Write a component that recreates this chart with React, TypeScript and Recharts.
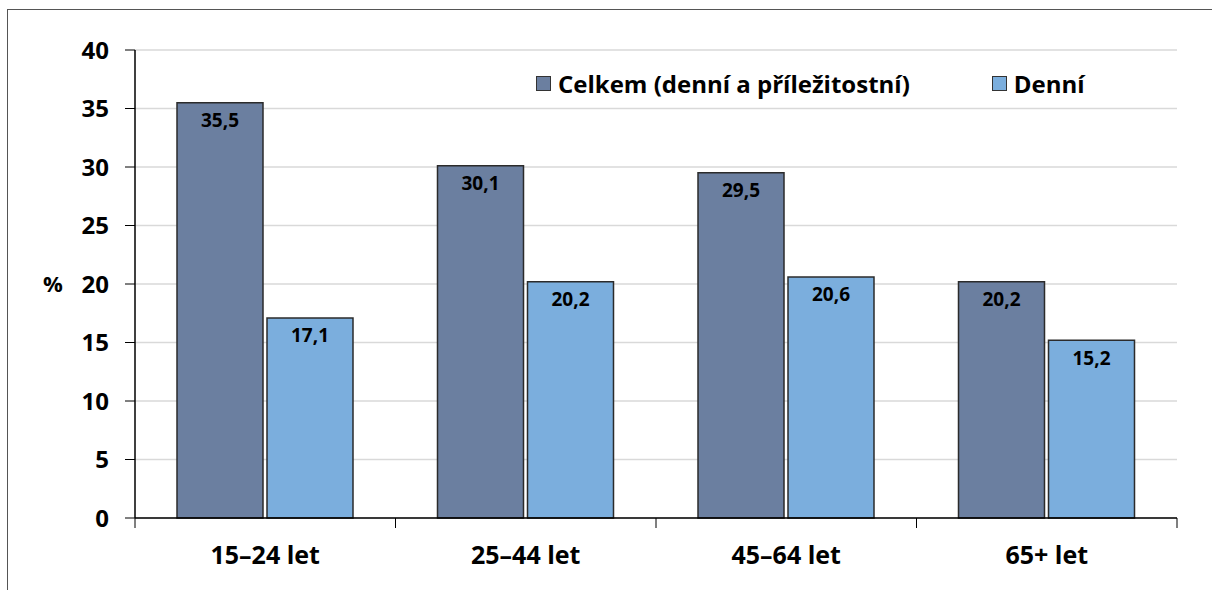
import React from 'react';
import { BarChart, Bar, XAxis, YAxis, CartesianGrid, Legend, LabelList } from 'recharts';

const categories = ['15–24 let', '25–44 let', '45–64 let', '65+ let'];
const celkem = [35.5, 30.1, 29.5, 20.2];
const denni = [17.1, 20.2, 20.6, 15.2];
const yTicks = [0, 5, 10, 15, 20, 25, 30, 35, 40];
const seriesNames = ['Celkem (denní a příležitostní)', 'Denní'];

const data = categories.map((c, i) => ({ cat: c, celkem: celkem[i], denni: denni[i] }));

const FONT = '"Open Sans", Lato, sans-serif';
const DARK = '#6B7FA0';
const LIGHT = '#7BAEDD';

const fmt = (v: any) => String(v).replace('.', ',');

const XTick = (props: any) => {
  const { x, y, payload, index } = props;
  const off = payload.offset || 0;
  return (
    <g>
      <line x1={x - off} x2={x - off} y1={y} y2={y + 10} stroke="#000" strokeWidth={1} />
      {index === categories.length - 1 && (
        <line x1={x + off} x2={x + off} y1={y} y2={y + 10} stroke="#000" strokeWidth={1} />
      )}
      <text x={x} y={y + 46} textAnchor="middle" fill="#000" fontSize={25} fontWeight={700} fontFamily={FONT}>
        {payload.value}
      </text>
    </g>
  );
};

const LegendContent = () => (
  <div style={{ display: 'flex', alignItems: 'center', fontFamily: FONT, fontWeight: 700, fontSize: 24, color: '#000', whiteSpace: 'nowrap' }}>
    <span style={{ display: 'inline-block', width: 13, height: 13, background: DARK, border: '1.5px solid #333', marginRight: 7 }} />
    <span>{seriesNames[0]}</span>
    <span style={{ display: 'inline-block', width: 13, height: 13, background: LIGHT, border: '1.5px solid #333', marginLeft: 82, marginRight: 7 }} />
    <span>{seriesNames[1]}</span>
  </div>
);

export default function App() {
  return (
    <div style={{ position: 'absolute', left: 0, top: 0, width: 1212, height: 590, background: '#fff' }}>
      <div style={{ position: 'absolute', left: 7, top: 9, width: 1205, height: 581, borderLeft: '1.5px solid #555', borderTop: '1.5px solid #555' }} />
      <BarChart
        width={1212}
        height={590}
        data={data}
        margin={{ top: 50, right: 35, bottom: 0, left: 0 }}
        barCategoryGap={42}
        barGap={4}
      >
        <CartesianGrid xAxisId="cat" yAxisId="l" horizontal vertical={false} stroke="#d9d9d9" strokeWidth={1.5} />
        <XAxis
          xAxisId="cat"
          dataKey="cat"
          height={72}
          axisLine={{ stroke: '#000', strokeWidth: 1.5 }}
          tickLine={false}
          tickSize={0}
          tickMargin={0}
          interval={0}
          tick={<XTick />}
        />
        <XAxis xAxisId="top" dataKey="cat" orientation="top" height={0} tick={false} tickLine={false} axisLine={{ stroke: '#8c8c8c', strokeWidth: 2.5 }} />
        <YAxis
          yAxisId="l"
          width={135}
          domain={[0, 40]}
          ticks={yTicks}
          tickSize={10}
          tickMargin={16}
          axisLine={{ stroke: '#000', strokeWidth: 1.5 }}
          tickLine={{ stroke: '#000' }}
          tick={{ fill: '#000', fontSize: 24, fontWeight: 700, fontFamily: FONT }}
          label={{ value: '%', position: 'insideLeft', offset: 43, fill: '#000', fontSize: 22, fontWeight: 700, fontFamily: FONT }}
        />
        <YAxis yAxisId="r" orientation="right" width={0} domain={[0, 40]} tick={false} tickLine={false} axisLine={{ stroke: '#8c8c8c', strokeWidth: 2.5 }} />
        <Legend
          layout="horizontal"
          verticalAlign="middle"
          align="center"
          content={<LegendContent />}
          wrapperStyle={{ position: 'absolute', left: 536, top: 67, width: 'auto' }}
        />
        <Bar xAxisId="cat" yAxisId="l" dataKey="celkem" name={seriesNames[0]} fill={DARK} stroke="#2b2b2b" strokeWidth={1.5} isAnimationActive={false}>
          <LabelList dataKey="celkem" position="insideTop" offset={11} formatter={fmt} fill="#000" fontSize={19} fontWeight={700} fontFamily={FONT} />
        </Bar>
        <Bar xAxisId="cat" yAxisId="l" dataKey="denni" name={seriesNames[1]} fill={LIGHT} stroke="#2b2b2b" strokeWidth={1.5} isAnimationActive={false}>
          <LabelList dataKey="denni" position="insideTop" offset={11} formatter={fmt} fill="#000" fontSize={19} fontWeight={700} fontFamily={FONT} />
        </Bar>
      </BarChart>
    </div>
  );
}
